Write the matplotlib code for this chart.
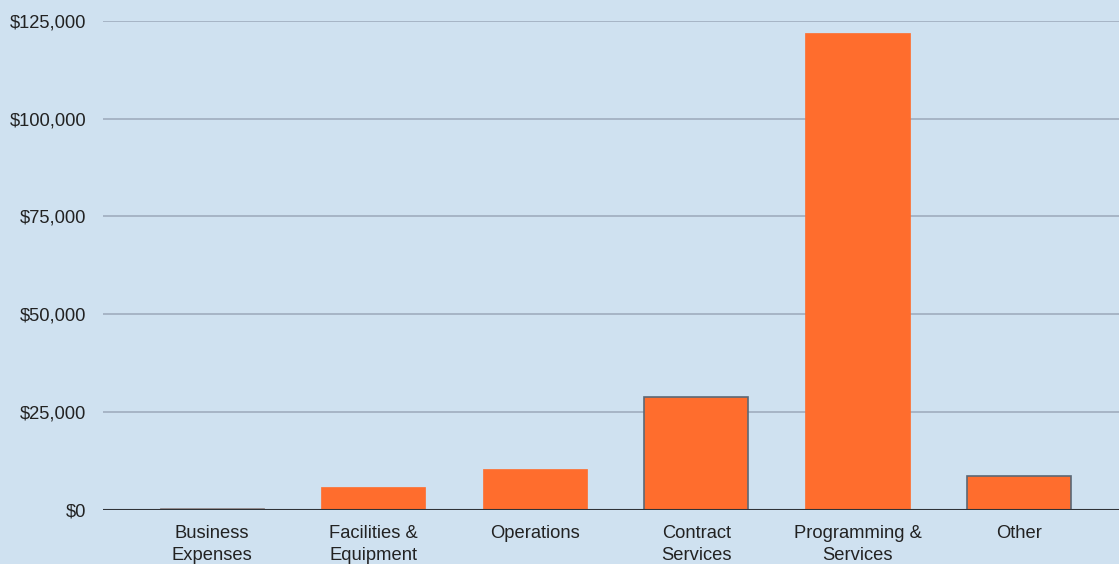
import matplotlib
matplotlib.use("Agg")
import matplotlib.pyplot as plt
from matplotlib.ticker import FuncFormatter

categories = ["Business\nExpenses", "Facilities &\nEquipment", "Operations",
              "Contract\nServices", "Programming &\nServices", "Other"]
values = [500, 5800, 10400, 28700, 121900, 8600]
outlined = [False, False, False, True, False, True]
yticks = [0, 25000, 50000, 75000, 100000, 125000]

bg = "#cfe1f0"
bar_color = "#ff6d2d"

plt.rcParams['font.family'] = ['Liberation Sans', 'DejaVu Sans']

fig = plt.figure(figsize=(11.19, 5.64), dpi=100, facecolor=bg)
ax = fig.add_axes([103/1119, 54.5/564, 1 - 103/1119, (509.5 - 21)/564])
ax.set_facecolor(bg)

x = list(range(len(categories)))
bars = ax.bar(x, values, width=0.645, color=bar_color, zorder=3)
for b, o in zip(bars, outlined):
    if o:
        b.set_edgecolor("#5b6876")
        b.set_linewidth(1.2)
    else:
        b.set_edgecolor(bar_color)
        b.set_linewidth(0.5)
# thin grey top line on the smallest bar
bars[0].set_edgecolor("#8a8f96")
bars[0].set_linewidth(0.6)

ax.set_xlim(-0.675, 5.62)
ax.set_ylim(0, 125000)
ax.set_yticks(yticks)
ax.yaxis.set_major_formatter(FuncFormatter(lambda v, p: f"${v:,.0f}"))
ax.grid(axis='y', color="#a3b1c2", linewidth=1.3, zorder=0)
ax.axhline(0, color="#2f3338", linewidth=1.5, zorder=4)

ax.set_xticks(x)
ax.set_xticklabels(categories, fontsize=13.2, color="#222222", linespacing=1.38)
ax.tick_params(axis='x', length=0, pad=11)
ax.tick_params(axis='y', length=0, pad=12, labelsize=13.2, labelcolor="#222222")
for s in ax.spines.values():
    s.set_visible(False)

fig.savefig("out.png", dpi=100, facecolor=bg)
